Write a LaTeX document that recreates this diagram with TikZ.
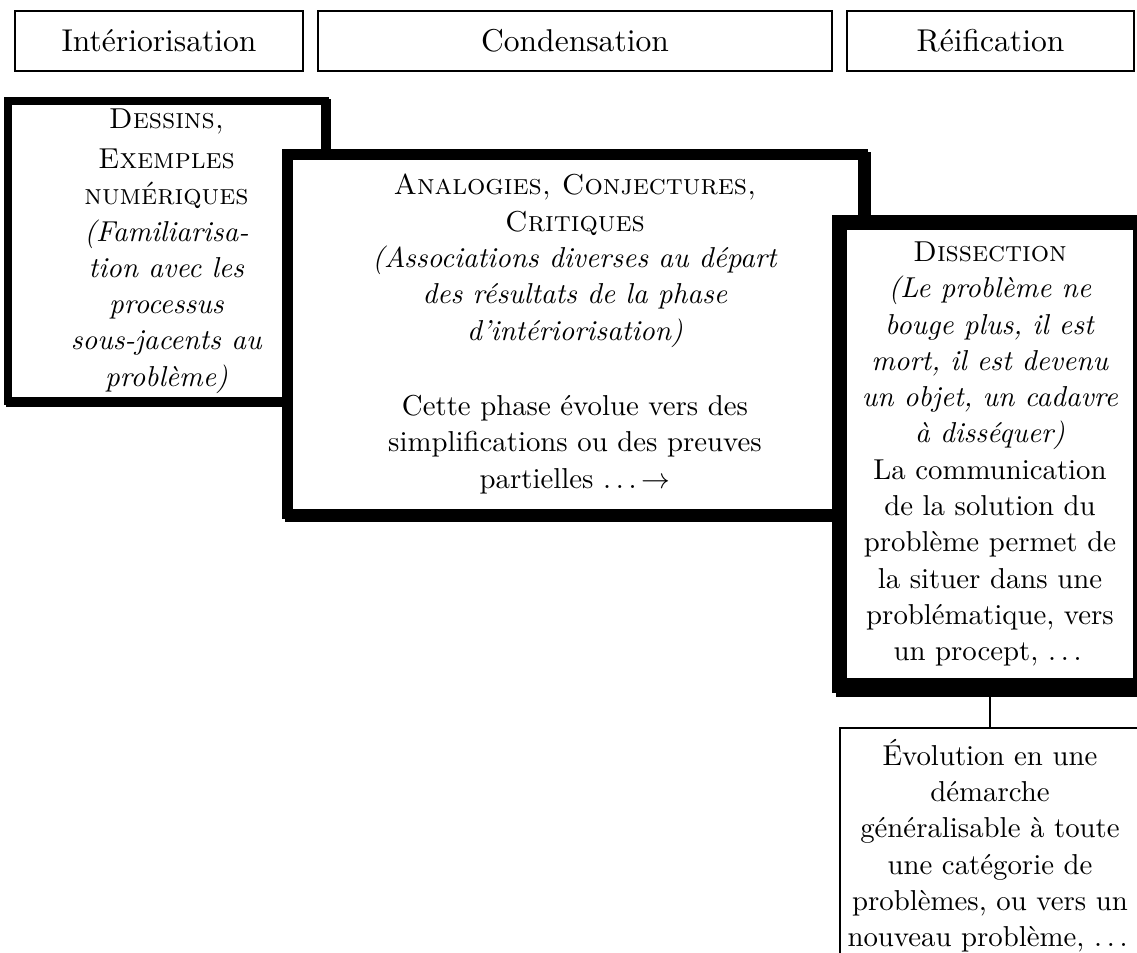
\documentclass[tikz,border=0pt]{standalone}
\def\pxu{0.3472pt}
\newcommand{\dotsep}{.\kern1.67pt.\kern1.67pt.\kern1.67pt}
\begin{document}
\begin{tikzpicture}[x=0.3472pt,y=-0.3472pt,
  phasebox/.style={draw=black, line width=0.4pt, inner sep=0pt, outer sep=0pt, font=\fontsize{10.95}{13.6}\selectfont},
  heavybox/.style 2 args={draw=black, fill=white, line width=#1*\pxu, inner sep=0pt, outer sep=0pt, align=center,
     font=\fontsize{10}{12.6}\selectfont,
     preaction={draw=black, fill=black, line width=#1*\pxu, transform canvas={shift={(#2*\pxu,-#2*\pxu)}}}},
  thinbox/.style={draw=black, fill=white, line width=0.4pt, inner xsep=0pt, inner ysep=11*\pxu, outer sep=0pt,
     align=center, font=\fontsize{10}{12.6}\selectfont},
  link/.style={draw=black, line width=0.4pt}]
\useasboundingbox (0,0) rectangle (1137,952);
\clip (0,0) rectangle (1137,952);

% phase headers
\node[phasebox, minimum width=288*\pxu, minimum height=60*\pxu] (p1) at (159,41) {Intériorisation};
\node[phasebox, minimum width=514*\pxu, minimum height=60*\pxu] (p2) at (575,41) {Condensation};
\node[phasebox, minimum width=287*\pxu, minimum height=60*\pxu] (p3) at (990.5,41) {Réification};

% heavy boxes
\node[heavybox={8}{2}, minimum width=317*\pxu, minimum height=300*\pxu] (b1) at (166.5,251)
  {\textsc{Dessins,}\\[1.4pt] \textsc{Exemples}\\ \textsc{numériques}\\
  \textit{(Familiarisa-}\\ \textit{tion avec les}\\ \textit{processus}\\ \textit{sous-jacents au}\\ \textit{problème)}};

\node[heavybox={10.5}{3}, minimum width=575.5*\pxu, minimum height=359.5*\pxu] (b2) at (575,334)
  {\textsc{Analogies, Conjectures,}\\ \textsc{Critiques}\\
  \textit{(Associations diverses au départ}\\ \textit{des résultats de la phase}\\ \textit{d'intériorisation)}\\[13.6pt]
  Cette phase évolue vers des\\ simplifications ou des preuves\\ partielles \dotsep$\rightarrow$};

\node[heavybox={15}{4}, minimum width=301*\pxu, minimum height=463*\pxu] (b3) at (990,454)
  {\textsc{Dissection}\\ \textit{(Le problème ne}\\ \textit{bouge plus, il est}\\
  \textit{mort, il est devenu}\\ \textit{un objet, un cadavre}\\ \textit{à disséquer)}\\
  La communication\\ de la solution du\\ problème permet de\\ la situer dans une\\ problématique, vers\\ un procept, \dotsep};

\node[thinbox, minimum width=300*\pxu, anchor=north] (b4) at (990,728)
  {Évolution en une\\ démarche\\ généralisable à toute\\ une catégorie de\\
  problèmes, ou vers un\\ nouveau problème, \dotsep};

\draw[link] (b3.south) -- (b4.north);
\end{tikzpicture}
\end{document}
